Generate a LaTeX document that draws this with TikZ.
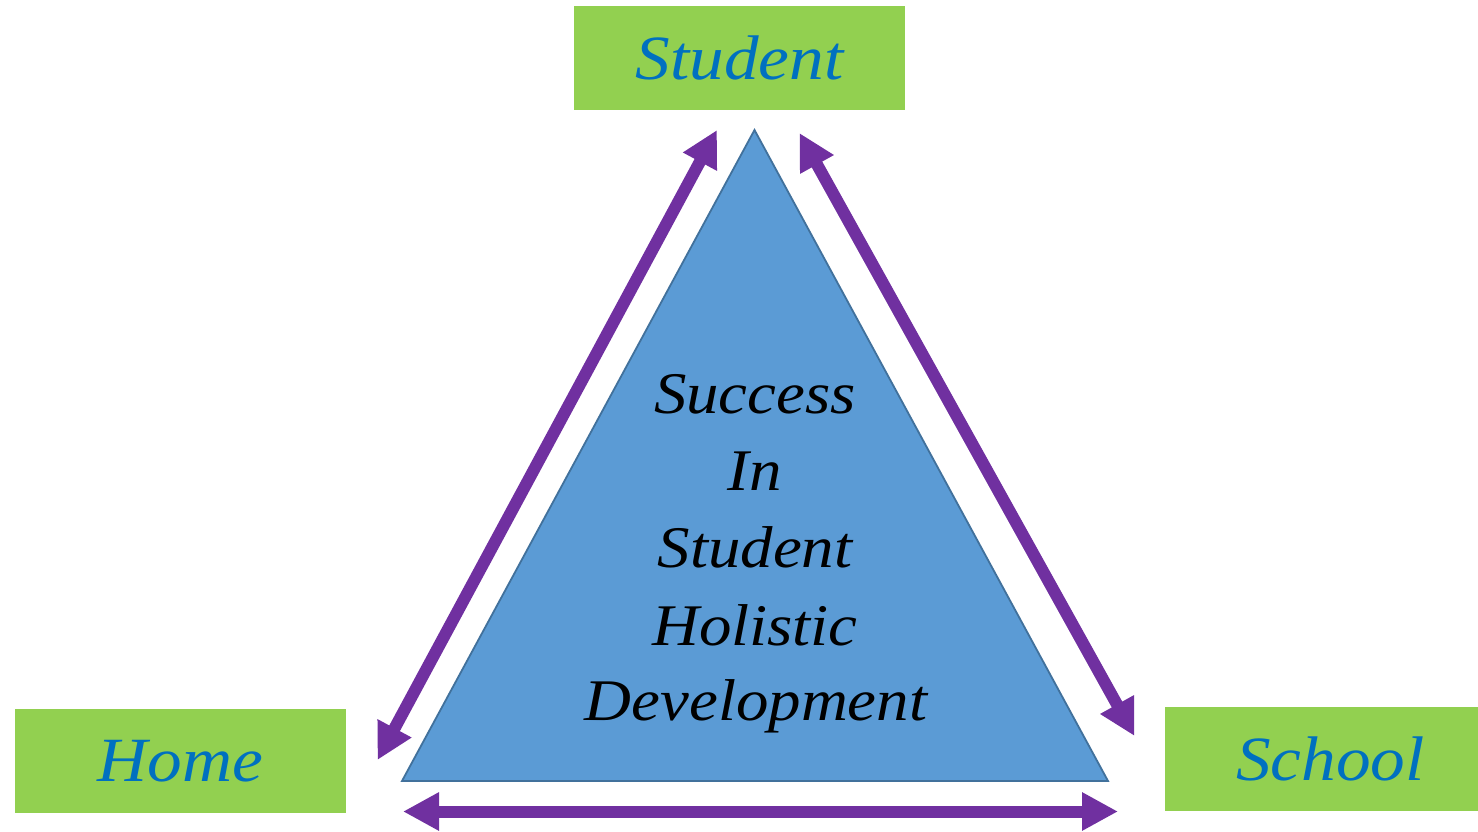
\documentclass[tikz,border=0pt]{standalone}
\usepackage{fontspec}
\setmainfont{Liberation Serif}[FakeStretch=1.1]
\usetikzlibrary{arrows.meta}
\definecolor{boxgreen}{HTML}{92D050}
\definecolor{boxtext}{HTML}{0070C0}
\definecolor{arrpurple}{HTML}{7030A0}
\definecolor{trifill}{HTML}{5B9BD5}
\definecolor{triline}{HTML}{41719C}
\tikzset{
  box/.style={fill=boxgreen, draw=none, inner sep=0pt, minimum width=331pt, minimum height=104pt,
    text=boxtext, font=\fontsize{63}{70}\selectfont\itshape},
  tritext/.style={anchor=base, inner sep=0pt, text=black, font=\fontsize{59}{66}\selectfont\itshape},
  arr/.style={draw=arrpurple, line width=12pt, {Triangle[width=36pt,length=36pt]}-{Triangle[width=36pt,length=36pt]}},
}
\begin{document}
\begin{tikzpicture}[x=1pt,y=-1pt]
\clip (0,0) rectangle (1478,832);
\fill[white] (0,0) rectangle (1478,832);
% boxes
\node[box] (student) at (739.5,58.3) {Student};
\node[box] (home) at (180.5,761) {Home};
\node[box] (school) at (1330.5,759.2) {School};
% triangle
\coordinate (apex) at (754.5,130);
\coordinate (bl) at (402,781);
\coordinate (br) at (1108,781);
\filldraw[fill=trifill, draw=triline, line width=1.8pt, line join=miter] (apex) -- (bl) -- (br) -- cycle;
% text
\node[tritext] (t1) at (755,413) {Success};
\node[tritext] (t2) at (755,490) {In};
\node[tritext] (t3) at (755,567) {Student};
\node[tritext] (t4) at (755,645) {Holistic};
\node[tritext] (t5) at (756,720) {Development};
% arrows
\coordinate (la) at (717,130);
\coordinate (lb) at (377.5,760);
\coordinate (ra) at (799.5,133);
\coordinate (rb) at (1134.5,736);
\coordinate (ba) at (403,811.5);
\coordinate (bb) at (1118,811.5);
\draw[arr] (la) -- (lb);
\draw[arr] (ra) -- (rb);
\draw[arr] (ba) -- (bb);
\end{tikzpicture}
\end{document}
